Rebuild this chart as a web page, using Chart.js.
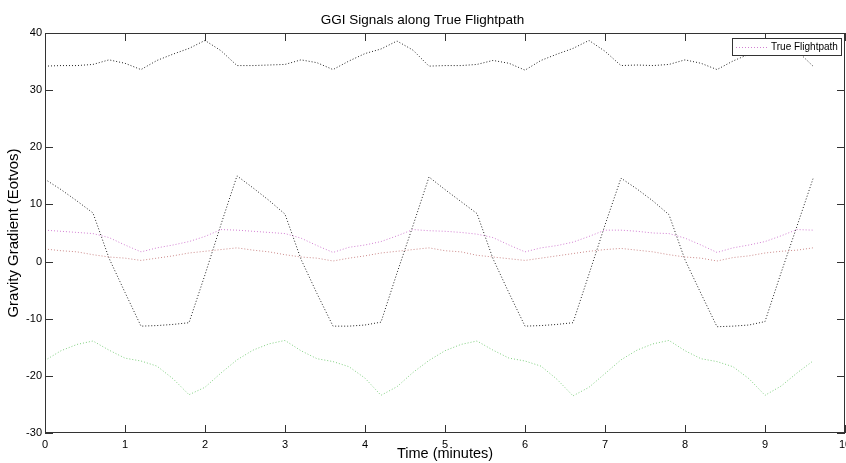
<!DOCTYPE html>
<html>
<head>
<meta charset="utf-8">
<script src="https://cdn.jsdelivr.net/npm/chart.js@4.4.1/dist/chart.umd.min.js"></script>
<style>
  html, body { margin: 0; padding: 0; background: #fff; }
  #wrap { width: 846px; height: 463px; position: relative; }
</style>
</head>
<body>
<div id="wrap"><canvas id="ggiChart"></canvas></div>
<script>
const minutes = [0,0.2,0.4,0.6,0.8,1,1.2,1.4,1.6,1.8,2,2.2,2.4,2.6,2.8,3,3.2,3.4,3.6,3.8,4,4.2,4.4,4.6,4.8,5,5.2,5.4,5.6,5.8,6,6.2,6.4,6.6,6.8,7,7.2,7.4,7.6,7.8,8,8.2,8.4,8.6,8.8,9,9.2,9.4,9.6];

const magentaSignal = [5.5,5.3,5.1,4.9,4.2,2.9,1.7,2.4,2.9,3.5,4.4,5.6,5.5,
  5.3,5.1,4.9,4.1,2.8,1.6,2.5,2.9,3.5,4.5,5.6,5.4,
  5.3,5.1,4.8,4.2,2.9,1.7,2.4,2.8,3.4,4.4,5.5,5.5,
  5.3,5.0,4.9,4.1,2.9,1.6,2.4,2.9,3.5,4.5,5.6,5.5];

const roseSignal = [2.2,1.9,1.7,1.2,0.8,0.6,0.2,0.6,1.0,1.5,1.8,2.1,2.4,
  2.0,1.7,1.2,0.8,0.6,0.1,0.6,1.0,1.5,1.8,2.1,2.4,
  1.9,1.7,1.1,0.8,0.5,0.2,0.6,1.0,1.4,1.8,2.1,2.3,
  2.0,1.7,1.2,0.8,0.6,0.1,0.7,1.0,1.5,1.8,2.0,2.4];

const topSignal = [34.2,34.3,34.3,34.5,35.3,34.7,33.6,35.2,36.3,37.3,38.7,36.9,34.3,
  34.3,34.4,34.5,35.3,34.8,33.6,35.1,36.4,37.2,38.6,37.0,34.2,
  34.3,34.3,34.5,35.2,34.7,33.5,35.2,36.3,37.3,38.7,36.8,34.3,
  34.4,34.3,34.5,35.3,34.7,33.6,35.1,36.3,37.2,38.6,36.9,34.2];

const swingSignal = [14.4,12.6,10.6,8.5,0.6,-5.4,-11.3,-11.2,-11.0,-10.7,-2.3,6.5,15.0,
  12.9,10.7,8.3,0.4,-5.6,-11.3,-11.3,-11.1,-10.6,-2.0,6.3,14.8,
  12.6,10.5,8.4,0.5,-5.5,-11.3,-11.2,-11.0,-10.7,-2.2,6.4,14.6,
  12.7,10.6,8.2,0.3,-5.6,-11.4,-11.3,-11.1,-10.5,-2.0,6.2,14.5];

const greenSignal = [-17.3,-15.6,-14.5,-13.9,-15.5,-16.9,-17.4,-18.3,-20.5,-23.3,-22.0,-19.5,-17.2,
  -15.5,-14.4,-13.8,-15.6,-17.0,-17.5,-18.4,-20.4,-23.4,-21.9,-19.4,-17.3,
  -15.6,-14.5,-13.9,-15.5,-16.9,-17.4,-18.3,-20.6,-23.5,-22.0,-19.6,-17.2,
  -15.5,-14.4,-13.8,-15.6,-17.0,-17.5,-18.4,-20.5,-23.4,-21.8,-19.5,-17.4];

const xTickStep = 1;
const yTickStep = 10;

const FONT = '"Liberation Sans", Arial, sans-serif';

function pairs(values) {
  return minutes.map((t, i) => ({ x: t, y: values[i] }));
}

function dotted(label, color, values) {
  return {
    label: label,
    data: pairs(values),
    borderColor: color,
    backgroundColor: color,
    borderWidth: 1,
    borderDash: [1, 2],
    pointRadius: 0,
    tension: 0,
    fill: false
  };
}

// matlab-ish box with inward ticks + the small legend box
const axesBox = {
  id: 'axesBox',
  afterDatasetsDraw(chart) {
    const { ctx, chartArea: a, scales } = chart;
    ctx.save();
    ctx.strokeStyle = '#333';
    ctx.lineWidth = 1;
    ctx.strokeRect(a.left + 0.5, a.top + 0.5, a.right - a.left - 1, a.bottom - a.top - 1);
    ctx.beginPath();
    scales.x.ticks.forEach(t => {
      const px = Math.round(scales.x.getPixelForValue(t.value)) + 0.5;
      ctx.moveTo(px, a.bottom); ctx.lineTo(px, a.bottom - 8);
      ctx.moveTo(px, a.top); ctx.lineTo(px, a.top + 8);
    });
    scales.y.ticks.forEach(t => {
      const py = Math.round(scales.y.getPixelForValue(t.value)) + 0.5;
      ctx.moveTo(a.left, py); ctx.lineTo(a.left + 8, py);
      ctx.moveTo(a.right, py); ctx.lineTo(a.right - 8, py);
    });
    ctx.stroke();

    // legend, first series only
    const ds = chart.data.datasets[0];
    const bx = 732, by = 38, bw = 109, bh = 17;
    ctx.fillStyle = '#fff';
    ctx.fillRect(bx, by, bw, bh);
    ctx.strokeRect(bx + 0.5, by + 0.5, bw, bh);
    ctx.beginPath();
    ctx.strokeStyle = ds.borderColor;
    ctx.setLineDash([1, 2]);
    ctx.moveTo(bx + 4, by + 9.5);
    ctx.lineTo(bx + 36, by + 9.5);
    ctx.stroke();
    ctx.setLineDash([]);
    ctx.fillStyle = '#000';
    ctx.font = '10px ' + FONT;
    ctx.textBaseline = 'middle';
    ctx.fillText(ds.label, bx + 39, by + 9.5);
    ctx.restore();
  }
};

document.addEventListener("DOMContentLoaded", function () {
  const ctx = document.getElementById('ggiChart').getContext('2d');

  new Chart(ctx, {
    type: 'line',
    data: {
      datasets: [
        dotted('True Flightpath', '#d27fd2', magentaSignal),
        dotted('', '#cc8a8a', roseSignal),
        dotted('', '#222', topSignal),
        dotted('', '#222', swingSignal),
        dotted('', '#7fcf7f', greenSignal)
      ]
    },
    options: {
      responsive: true,
      maintainAspectRatio: false,
      animation: false,
      layout: { padding: { left: 0, right: 1, top: 0, bottom: 0 } },
      plugins: {
        legend: { display: false },
        tooltip: { enabled: false },
        title: {
          display: true,
          text: 'GGI Signals along True Flightpath',
          color: '#000',
          font: { family: FONT, size: 13.5, weight: 'normal' },
          padding: { top: 12, bottom: 4.8 }
        }
      },
      scales: {
        x: {
          type: 'linear',
          min: 0,
          max: 10,
          ticks: { stepSize: xTickStep, color: '#000', font: { family: FONT, size: 11 }, padding: 5, maxRotation: 0 },
          grid: { display: false, drawTicks: false },
          border: { display: false },
          title: { display: true, text: 'Time (minutes)', color: '#000', font: { family: FONT, size: 14.5 }, padding: { top: 0, bottom: 0 } },
          afterFit(s) { s.height = 30; s.paddingLeft = 0; s.paddingRight = 0; }
        },
        y: {
          min: -30,
          max: 40,
          ticks: { stepSize: yTickStep, color: '#000', font: { family: FONT, size: 11 }, padding: 3 },
          grid: { display: false, drawTicks: false },
          border: { display: false },
          title: { display: true, text: 'Gravity Gradient (Eotvos)', color: '#000', font: { family: FONT, size: 15 }, padding: { top: 5, bottom: 0 } },
          afterFit(s) { s.width = 45; }
        }
      }
    },
    plugins: [axesBox]
  });
});
</script>
</body>
</html>
